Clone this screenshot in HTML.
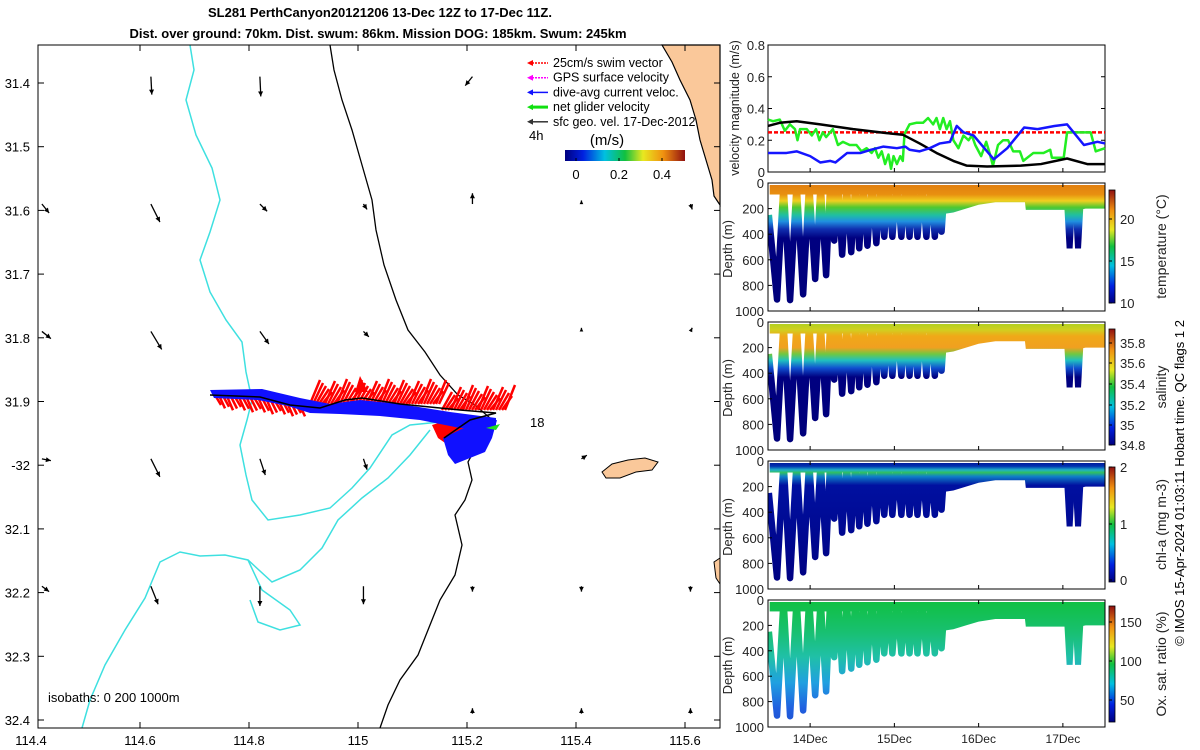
<!DOCTYPE html>
<html><head><meta charset="utf-8">
<style>
html,body{margin:0;padding:0;background:#fff;}
svg{display:block;font-family:"Liberation Sans","DejaVu Sans",sans-serif;}
</style></head>
<body>
<svg id="fig" width="1200" height="750" viewBox="0 0 1200 750" xmlns="http://www.w3.org/2000/svg">
<defs>
<linearGradient id="jet" x1="0" y1="0" x2="1" y2="0">
<stop offset="0" stop-color="#00007f"/><stop offset="0.15" stop-color="#0020e0"/><stop offset="0.33" stop-color="#00c0e0"/><stop offset="0.5" stop-color="#10c040"/><stop offset="0.65" stop-color="#e8e820"/><stop offset="0.82" stop-color="#f09010"/><stop offset="1" stop-color="#901010"/>
</linearGradient>
<linearGradient id="jetv" x1="0" y1="1" x2="0" y2="0">
<stop offset="0" stop-color="#00007f"/><stop offset="0.15" stop-color="#0020e0"/><stop offset="0.33" stop-color="#00c0e0"/><stop offset="0.5" stop-color="#10c040"/><stop offset="0.65" stop-color="#e8e820"/><stop offset="0.82" stop-color="#f09010"/><stop offset="1" stop-color="#901010"/>
</linearGradient>
</defs>
<g id="titles">
<text x="380" y="17" font-size="13" font-weight="bold" text-anchor="middle">SL281 PerthCanyon20121206 13-Dec 12Z to 17-Dec 11Z.</text>
<text x="378" y="38" font-size="13" font-weight="bold" text-anchor="middle">Dist. over ground: 70km. Dist. swum: 86km. Mission DOG: 185km. Swum: 245km</text>
</g>
<g id="map"></g>
<g id="right"></g>
<text transform="translate(1184,483) rotate(-90)" font-size="13" text-anchor="middle">© IMOS 15-Apr-2024 01:03:11 Hobart time. QC flags 1  2</text>
</svg>
<script>
// ---------- data ----------
const lonTicks = [114.4,114.6,114.8,115,115.2,115.4,115.6];
const lonLabels = ["114.4","114.6","114.8","115","115.2","115.4","115.6"];
const latTicks = [31.4,31.5,31.6,31.7,31.8,31.9,32.0,32.1,32.2,32.3,32.4];
const latLabels = ["31.4","31.5","31.6","31.7","31.8","31.9","-32","32.1","32.2","32.3","32.4"];
const arrowLons = [114.42,114.62,114.82,115.01,115.21,115.41,115.61];
const arrowLats = [31.39,31.59,31.79,31.99,32.19,32.39];
const arrowU = [
 [0,0.05,0.05,0,-0.4,0,0],
 [0.4,0.5,0.4,0.2,0,0,0.1],
 [0.5,0.6,0.5,0.3,0,0,0.1],
 [0.5,0.5,0.3,0.2,0,0.3,0],
 [0.4,0.4,0,0,0,0,0],
 [0,0,0,0,0,0,0]];
const arrowV = [
 [0,1,1.1,0,0.5,0,0],
 [0.5,1,0.4,0.3,-0.6,-0.2,0.3],
 [0.4,1,0.7,0.3,0,-0.2,-0.2],
 [0.1,1,0.9,0.6,0,-0.2,0],
 [0.3,1,1.1,1,0.3,0.3,0.3],
 [0,0,0,0,-0.3,-0.3,-0.3]];

const velTicks = [0,0.2,0.4,0.6,0.8];
const greenT = [13.5,13.56,13.64,13.7,13.76,13.82,13.85,13.88,13.96,14.02,14.07,14.11,14.15,14.19,14.27,14.33,14.39,14.47,14.55,14.61,14.67,14.73,14.77,14.81,14.85,14.89,14.93,14.96,14.99,15.03,15.07,15.1,15.12,15.18,15.26,15.34,15.4,15.46,15.5,15.54,15.58,15.62,15.66,15.7,15.76,15.82,15.88,15.92,15.96,16.03,16.09,16.13,16.17,16.23,16.29,16.35,16.41,16.49,16.53,16.65,16.77,16.85,16.87,17.01,17.05,17.13,17.21,17.33,17.39,17.5];
const greenV = [0.33,0.32,0.33,0.26,0.3,0.27,0.2,0.27,0.27,0.23,0.27,0.2,0.25,0.22,0.27,0.17,0.19,0.17,0.17,0.13,0.15,0.12,0.15,0.09,0.13,0.05,0.11,0.02,0.1,0.05,0.1,0.07,0.24,0.3,0.31,0.31,0.34,0.3,0.34,0.27,0.34,0.27,0.32,0.2,0.15,0.23,0.2,0.23,0.17,0.1,0.19,0.12,0.04,0.17,0.2,0.2,0.13,0.13,0.07,0.12,0.12,0.14,0.09,0.09,0.25,0.25,0.25,0.25,0.13,0.15];
const blackT = [13.5,13.64,13.84,14.12,14.51,14.91,15.1,15.3,15.5,15.7,15.86,16.1,16.5,16.74,17.05,17.29,17.5];
const blackV = [0.29,0.31,0.32,0.3,0.27,0.245,0.235,0.18,0.12,0.07,0.04,0.035,0.04,0.05,0.085,0.05,0.05];
const blueT = [13.5,13.72,13.84,14.0,14.12,14.24,14.3,14.44,14.6,14.72,14.87,15.03,15.13,15.18,15.3,15.42,15.54,15.66,15.74,15.82,15.94,16.18,16.34,16.54,16.7,16.9,17.05,17.25,17.41,17.5];
const blueV = [0.12,0.12,0.13,0.1,0.06,0.07,0.06,0.12,0.12,0.14,0.16,0.15,0.16,0.14,0.13,0.15,0.18,0.19,0.29,0.25,0.23,0.08,0.15,0.28,0.27,0.29,0.3,0.17,0.19,0.18];
const swimV = [0.25,0.25];

const diveT = [13.607,13.762,13.917,14.06,14.19,14.286,14.38,14.488,14.583,14.68,14.786,14.88,14.976,15.083,15.18,15.274,15.38,15.48,15.56];
const diveD = [910,915,870,750,720,450,560,540,510,490,470,420,420,420,420,420,420,420,380];
const shelfT = [15.6,15.7,15.85,16.0,16.2,16.45,16.55,16.56,17.05,17.12,17.2,17.27,17.5];
const shelfD = [240,230,200,170,150,150,150,210,210,210,210,200,200];
const lateDiveT = [17.08,17.18];
const lateDiveD = [510,510];
const depthTicks = [0,200,400,600,800,1000];
const dateTicks = [14,15,16,17];
const dateLabels = ["14Dec","15Dec","16Dec","17Dec"];

// ---------- helpers ----------
const NS="http://www.w3.org/2000/svg";
function mk(tag,attrs,parent,text){const e=document.createElementNS(NS,tag);for(const k in attrs)e.setAttribute(k,attrs[k]);if(text!==undefined)e.textContent=text;parent.appendChild(e);return e;}
const X = lon => 140 + (lon-114.6)*545;
const Y = lat => 83 + (lat-31.4)*637;
const map=document.getElementById('map');
const defs=document.querySelector('defs');

let land=mk('path',{d:"M662,45 L720,45 L720,205 L714,196 L712,180 L706,160 L700,140 L696,120 L690,100 L680,80 L672,62 Z",fill:"#fac89a",stroke:"#000","stroke-width":1.2},map);

let isl=mk('path',{d:"M602,472 L612,464 L628,460 L645,458 L658,462 L652,470 L636,472 L620,478 L606,478 Z",fill:"#fac89a",stroke:"#000","stroke-width":1},map);

let isl2=mk('path',{d:"M714,562 L720,558 L720,584 L716,578 Z",fill:"#fac89a",stroke:"#000","stroke-width":1},map);

let iso1000=mk('path',{d:"M330,45 L334,70 L342,100 L352,130 L362,165 L372,200 L376,230 L384,265 L396,300 L408,330 L425,352 L440,375 L458,395 L475,405 L490,418 L480,440 L468,462 L472,480 L465,500 L455,515 L462,545 L455,575 L440,600 L428,630 L418,655 L400,680 L388,705 L380,728",fill:"none",stroke:"#000","stroke-width":1.3},map);

let iso200a=mk('path',{d:"M190,45 L194,70 L186,100 L196,135 L212,168 L220,200 L210,232 L200,260 L210,292 L226,320 L242,342 L246,372 L252,400 L247,420 L240,445 L246,475 L252,500 L268,520 L300,515 L330,508 L352,488 L370,468 L392,435 L410,425 L440,422 L470,425",fill:"none",stroke:"#3ee0e0","stroke-width":1.5},map);

let iso200b=mk('path',{d:"M430,430 L410,455 L388,478 L362,498 L338,520 L322,548 L300,570 L272,582 L248,560 L225,555 L200,556 L180,552 L160,562 L145,598 L125,630 L105,665 L90,700 L82,728",fill:"none",stroke:"#3ee0e0","stroke-width":1.5},map);

let iso200c=mk('path',{d:"M248,560 L262,590 L290,610 L300,625 L280,630 L258,622 L250,600",fill:"none",stroke:"#3ee0e0","stroke-width":1.5},map);

// track: red swim vectors as spikes
const redG=mk('g',{},map);
for(let x=215;x<=300;x+=4){const yb=395+(x-215)*0.1;mk('line',{x1:x,y1:yb,x2:x+6,y2:yb+10+((x*7)%5),stroke:"#f00","stroke-width":2.5},redG);}
for(let x=310;x<=505;x+=3){const yb=404-(x-310)*0.0+(x>440?6:0);const h=12+((x*13)%14);mk('line',{x1:x,y1:yb,x2:x+10,y2:yb-h,stroke:"#f00","stroke-width":2.5},redG);}
mk('path',{d:"M355,392 L360,376 L368,392 Z",fill:"#f00"},redG);
mk('path',{d:"M432,425 L455,418 L470,420 L462,440 L448,445 L438,438 Z",fill:"#f00"},redG);
let blue1=mk('path',{d:"M210,390 L262,389 L300,398 L330,404 L360,400 L400,404 L450,412 L496,418 L496,428 L460,428 L420,420 L380,416 L340,414 L310,413 L288,406 L258,400 L214,398 Z",fill:"#1010ff"},map);

let blue2=mk('path',{d:"M443,438 L470,425 L497,420 L492,438 L485,452 L470,458 L455,464 L448,455 Z",fill:"#1010ff"},map);

mk('path',{d:"M486,428 L500,424 L496,430 Z",fill:"#20e020"},map);
let trk=mk('polyline',{points:"210,395 260,397 290,405 320,408 345,400 362,398 400,404 460,410 496,413 470,420 444,438",fill:"none",stroke:"#000","stroke-width":1.5},map);

mk('text',{x:530,y:427,"font-size":13},map,"18");
arrowLats.forEach((la,i)=>arrowLons.forEach((lo,j)=>{
  const u=arrowU[i][j], v=arrowV[i][j];
  const x0=X(lo), y0=Y(la), L=18;
  const x1=x0+u*L, y1=y0+v*L;
  const g=mk('g',{},map);
  
  
  mk('line',{x1:x0,y1:y0,x2:x1,y2:y1,stroke:"#000","stroke-width":1.3},g);
  const len=Math.hypot(x1-x0,y1-y0)||1, ux=(x1-x0)/len, uy=(y1-y0)/len, h=Math.min(5,len*0.6+1.5);
  mk('path',{d:`M${x1},${y1} L${x1-ux*h-uy*h*0.5},${y1-uy*h+ux*h*0.5} L${x1-ux*h+uy*h*0.5},${y1-uy*h-ux*h*0.5} Z`,fill:"#000"},g);
}));
let fr=mk('rect',{x:38,y:45,width:682,height:683,fill:"none",stroke:"#000","stroke-width":1},map);

lonTicks.forEach((v,i)=>{const x=X(v);
  if(x>=38){mk('line',{x1:x,y1:728,x2:x,y2:722,stroke:"#000"},map);mk('line',{x1:x,y1:45,x2:x,y2:51,stroke:"#000"},map);}
  const t=mk('text',{x:x,y:745,"font-size":13,"text-anchor":"middle"},map,lonLabels[i]);
  });
latTicks.forEach((v,i)=>{const y=Y(v);
  mk('line',{x1:38,y1:y,x2:44,y2:y,stroke:"#000"},map);mk('line',{x1:720,y1:y,x2:714,y2:y,stroke:"#000"},map);
  const t=mk('text',{x:30,y:y+5,"font-size":13,"text-anchor":"end"},map,latLabels[i]);
  });
mk('text',{x:48,y:702,"font-size":13},map,"isobaths: 0   200   1000m");
const legC=["#f00","#f0f","#1010ff","#10e010","#333"];
const legT=["25cm/s swim vector","GPS surface velocity","dive-avg current veloc.","net glider velocity","sfc geo. vel. 17-Dec-2012"];
const leg=mk('g',{},map);
legT.forEach((s,i)=>{const y=67+i*14.7;
  const e=mk('g',{},leg);
  mk('line',{x1:532,y1:y-4,x2:548,y2:y-4,stroke:legC[i],"stroke-width":i==3?3:1.5,"stroke-dasharray":i<2?"2,1":"none"},e);
  mk('path',{d:`M527,${y-4} L533,${y-7} L533,${y-1} Z`,fill:legC[i]},e);
  mk('text',{x:553,y:y,"font-size":12.5},e,s);});
mk('text',{x:529,y:140,"font-size":13},map,"4h");
mk('text',{x:607,y:145,"font-size":15,"text-anchor":"middle"},map,"(m/s)");
let cb=mk('rect',{x:565,y:150,width:120,height:11,fill:"url(#jet)"},map);

[[576,"0"],[619,"0.2"],[662,"0.4"]].forEach(a=>{mk('line',{x1:a[0],y1:161,x2:a[0],y2:158,stroke:"#000"},map);mk('text',{x:a[0],y:179,"font-size":13,"text-anchor":"middle"},map,a[1]);});

// ---------- right panels ----------
const R=document.getElementById('right');
const PX0=768, PX1=1105;
const TX = t => PX0 + (t-13.5)*84.25;
const V0=172, V1=45;
const VY = v => V0 - v*(V0-V1)/0.8;
let vp=mk('g',{},R);
mk('rect',{x:PX0,y:V1,width:PX1-PX0,height:V0-V1,fill:"#fff",stroke:"#000"},vp);
function series(T,V,col,w,name,dash){const p=mk('polyline',{points:T.map((t,i)=>TX(t)+","+VY(V[i])).join(" "),fill:"none",stroke:col,"stroke-width":w,"stroke-linejoin":"round","stroke-dasharray":dash||"none"},vp);}
series([13.5,17.5],swimV,"#f00",2.5,"swim-speed-line","4,2");
series(greenT,greenV,"#22ee22",2.5,"net-glider-velocity-line");
series(blackT,blackV,"#000",2.5,"geostrophic-velocity-line");
series(blueT,blueV,"#1515ff",2.5,"dive-avg-current-line");
velTicks.forEach(v=>{const y=VY(v);mk('line',{x1:PX0,y1:y,x2:PX0+4,y2:y,stroke:"#000"},vp);mk('line',{x1:PX1,y1:y,x2:PX1-4,y2:y,stroke:"#000"},vp);
  const t=mk('text',{x:765,y:y+5,"font-size":13,"text-anchor":"end",fill:"#222"},vp,String(v));});
dateTicks.forEach(d=>mk('line',{x1:TX(d),y1:V0,x2:TX(d),y2:V0-4,stroke:"#000"},vp));
mk('text',{transform:"translate(739,108) rotate(-90)","font-size":12.5,"text-anchor":"middle",fill:"#222"},vp,"velocity magnitude (m/s)");

const panels=[
 {name:"temperature",top:183,bot:311,stops:[[0,"#e07c10"],[0.09,"#e89010"],[0.14,"#f0d020"],[0.19,"#50c830"],[0.25,"#20c0a0"],[0.3,"#2090e0"],[0.36,"#1030b0"],[0.43,"#000080"],[1,"#00007a"]],
  cb:[190,303],ticks:[[10,303],[15,261],[20,219]],label:"temperature (°C)"},
 {name:"salinity",top:322,bot:450,stops:[[0,"#a8d020"],[0.06,"#d0d020"],[0.11,"#f0a818"],[0.2,"#f0a020"],[0.25,"#70c840"],[0.3,"#20c0c0"],[0.36,"#1050d0"],[0.43,"#000080"],[1,"#00007a"]],
  cb:[329,445],ticks:[[34.8,445],[35,425],[35.2,405],[35.4,384],[35.6,363],[35.8,343]],label:"salinity"},
 {name:"chl-a",top:461,bot:589,stops:[[0,"#001090"],[0.04,"#0030b0"],[0.07,"#20b0c8"],[0.09,"#30c060"],[0.12,"#1080c8"],[0.19,"#0010a0"],[1,"#000080"]],
  cb:[467,582],ticks:[[0,580],[1,524],[2,467]],label:"chl-a (mg m-3)"},
 {name:"oxygen",top:600,bot:727,stops:[[0,"#10c040"],[0.25,"#18c070"],[0.45,"#20c0a8"],[0.65,"#20a0e0"],[0.85,"#2060e0"],[1,"#2050d0"]],
  cb:[606,722],ticks:[[50,700],[100,661],[150,622]],label:"Ox. sat. ratio (%)"}
];
panels.forEach((P,pi)=>{
  const g=mk('g',{},R);
  
  
  const DY=d=>P.top+d*(P.bot-P.top)/1000;
  const gid="gr"+pi, cid="cp"+pi;
  const lg=mk('linearGradient',{id:gid,gradientUnits:"userSpaceOnUse",x1:0,y1:DY(0),x2:0,y2:DY(1000)},defs);
  P.stops.forEach(s=>mk('stop',{offset:s[0],"stop-color":s[1]},lg));
  const cp=mk('clipPath',{id:cid},defs);
  mk('rect',{x:PX0,y:DY(0)+2,width:PX1-PX0,height:P.bot-P.top-2},cp);
  mk('rect',{x:PX0,y:P.top,width:PX1-PX0,height:P.bot-P.top,fill:"#fff"},g);
  const dg=mk('g',{"clip-path":`url(#${cid})`},g);
  let pts=[[TX(13.51),DY(250)]];
  diveT.forEach((t,i)=>{pts.push([TX(t),DY(diveD[i])]);const nt=i<diveT.length-1?(t+diveT[i+1])/2:t+0.04;pts.push([TX(nt),DY(0)]);});
  const dv=mk('polyline',{points:pts.map(p=>p.join(",")).join(" "),fill:"none",stroke:`url(#${gid})`,"stroke-width":6.5,"stroke-linejoin":"round"},dg);
  
  mk('rect',{x:TX(13.52),y:DY(0),width:TX(15.62)-TX(13.52),height:DY(90)-DY(0),fill:`url(#${gid})`},dg);
  const sp=[[TX(shelfT[0]),DY(0)]].concat(shelfT.map((t,i)=>[TX(t),DY(shelfD[i])])).concat([[TX(17.5),DY(0)]]);
  const sh=mk('polygon',{points:sp.map(p=>p.join(",")).join(" "),fill:`url(#${gid})`},dg);
  
  lateDiveT.forEach((t,i)=>mk('polyline',{points:`${TX(t-0.03)},${DY(150)} ${TX(t)},${DY(lateDiveD[i])} ${TX(t+0.03)},${DY(150)}`,fill:"none",stroke:`url(#${gid})`,"stroke-width":6},dg));
  mk('rect',{x:PX0,y:P.top,width:PX1-PX0,height:P.bot-P.top,fill:"none",stroke:"#000"},g);
  depthTicks.forEach(d=>{const y=DY(d);mk('line',{x1:PX0,y1:y,x2:PX0+4,y2:y,stroke:"#000"},g);
    const t=mk('text',{x:764,y:y+5,"font-size":13,"text-anchor":"end",fill:"#222"},g,String(d));});
  dateTicks.forEach(d=>{mk('line',{x1:TX(d),y1:P.bot,x2:TX(d),y2:P.bot-4,stroke:"#000"},g);mk('line',{x1:TX(d),y1:P.top,x2:TX(d),y2:P.top+4,stroke:"#000"},g);});
  mk('text',{transform:`translate(732,${(P.top+P.bot)/2+2}) rotate(-90)`,"font-size":13,"text-anchor":"middle",fill:"#222"},g,"Depth (m)");
  const c=mk('rect',{x:1109,y:P.cb[0],width:6,height:P.cb[1]-P.cb[0],fill:"url(#jetv)",stroke:"#000","stroke-width":0.8},g);
  
  P.ticks.forEach(tk=>{mk('line',{x1:1109,y1:tk[1],x2:1112,y2:tk[1],stroke:"#000"},g);mk('text',{x:1120,y:tk[1]+5,"font-size":13,fill:"#222"},g,String(tk[0]));});
  mk('text',{transform:`translate(1166,${(P.cb[0]+P.cb[1])/2}) rotate(-90)`,"font-size":14,"text-anchor":"middle",fill:"#222"},g,P.label);
});
dateTicks.forEach((d,i)=>{const t=mk('text',{x:TX(d),y:743,"font-size":12,"text-anchor":"middle",fill:"#222"},R,dateLabels[i]);});
</script>
</body></html>
